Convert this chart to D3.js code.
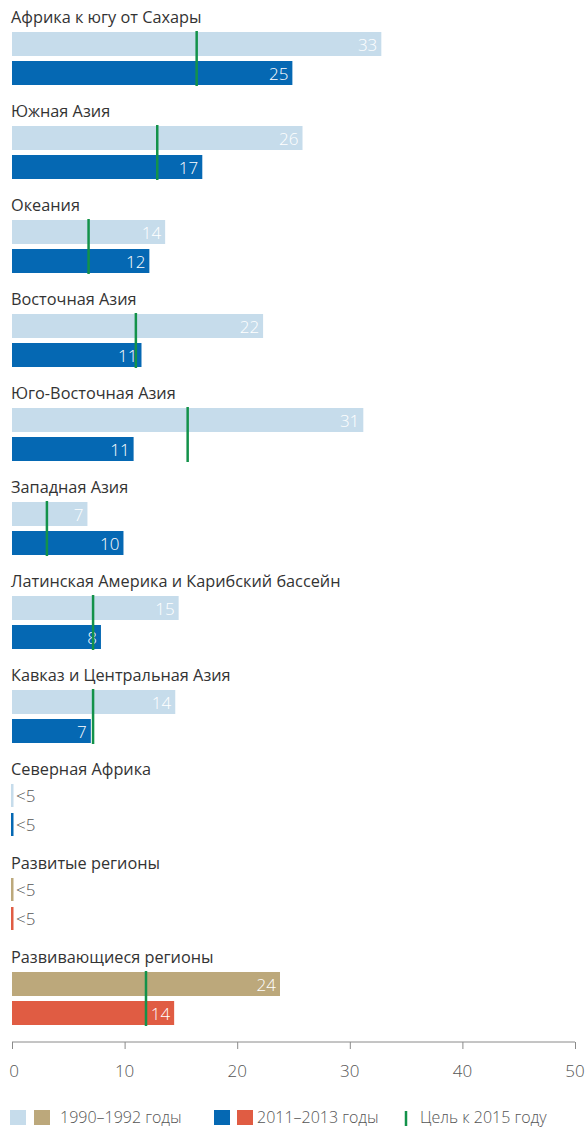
<!DOCTYPE html>
<html>
<head>
<meta charset="utf-8">
<script src="https://cdn.jsdelivr.net/npm/d3@7"></script>
<style>
  body { margin: 0; background: #fff; }
  svg { display: block; font-family: "Open Sans", "Noto Sans", sans-serif; }
</style>
</head>
<body>
<svg id="chart" width="585" height="1128"></svg>
<script>
// Regions, top to bottom
const regions = [
  "Африка к югу от Сахары",
  "Южная Азия",
  "Океания",
  "Восточная Азия",
  "Юго-Восточная Азия",
  "Западная Азия",
  "Латинская Америка и Карибский бассейн",
  "Кавказ и Центральная Азия",
  "Северная Африка",
  "Развитые регионы",
  "Развивающиеся регионы"
];
// null = "<5"
const v1990 = [32.8, 25.8, 13.6, 22.3, 31.2, 6.7, 14.8, 14.5, null, null, 23.8];
const v2011 = [24.9, 16.9, 12.2, 11.5, 10.8, 9.9, 7.9, 7.0, null, null, 14.4];
const labels1990 = ["33", "26", "14", "22", "31", "7", "15", "14", "<5", "<5", "24"];
const labels2011 = ["25", "17", "12", "11", "11", "10", "8", "7", "<5", "<5", "14"];
const target2015 = [16.4, 12.9, 6.8, 11.0, 15.6, 3.1, 7.2, 7.2, null, null, 11.9];
// aggregate groups use tan/red
const aggregate = [false, false, false, false, false, false, false, false, false, true, true];
const xTicks = [0, 10, 20, 30, 40, 50];

const C = {
  light: "#c6dceb", dark: "#0568b3", tan: "#bca87b", red: "#e05c43",
  green: "#13924a", text: "#333", axis: "#8a8a8a"
};

const svg = d3.select("#chart");
const x = d3.scaleLinear().domain([0, 50]).range([12, 575]);
const y = d3.scaleBand().domain(d3.range(regions.length)).range([0, 94 * regions.length]);

const barH = 24;

const g = svg.selectAll("g.region")
  .data(regions)
  .enter()
  .append("g")
  .attr("class", "region")
  .attr("transform", (d, i) => `translate(0,${y(i)})`);

g.append("text")
  .attr("x", 11)
  .attr("y", 23)
  .attr("font-size", 16.3)
  .attr("fill", C.text)
  .text(d => d);

// two bars per region
[[v1990, labels1990, 32, true], [v2011, labels2011, 61, false]].forEach(([vals, labs, top, first]) => {
  g.each(function (d, i) {
    const grp = d3.select(this);
    const color = aggregate[i] ? (first ? C.tan : C.red) : (first ? C.light : C.dark);
    if (vals[i] == null) {
      grp.append("rect")
        .attr("x", x(0) - 1).attr("y", top)
        .attr("width", 2.5).attr("height", barH - 1)
        .attr("fill", color);
      grp.append("text")
        .attr("x", x(0) + 4).attr("y", top + 18)
        .attr("font-size", 17).attr("font-weight", 300)
        .attr("fill", "#555")
        .text(labs[i]);
    } else {
      grp.append("rect")
        .attr("x", x(0)).attr("y", top)
        .attr("width", x(vals[i]) - x(0)).attr("height", barH)
        .attr("fill", color);
      grp.append("text")
        .attr("x", x(vals[i]) - 4).attr("y", top + 18.5)
        .attr("text-anchor", "end")
        .attr("font-size", 17).attr("font-weight", 300)
        .attr("fill", "#fff")
        .text(labs[i]);
    }
  });
});

// target line
g.filter((d, i) => target2015[i] != null)
  .append("line")
  .attr("x1", d => x(target2015[regions.indexOf(d)]))
  .attr("x2", d => x(target2015[regions.indexOf(d)]))
  .attr("y1", 31).attr("y2", 86)
  .attr("stroke", C.green).attr("stroke-width", 2.5);

// Axis: line on top, ticks pointing down
const axisY = 1042;
const ax = svg.append("g")
  .attr("transform", `translate(0,${axisY})`)
  .call(d3.axisBottom(x).tickValues(xTicks).tickSize(7).tickFormat(""));
ax.select(".domain").attr("stroke", C.axis).attr("d", `M${x(0)},0H${x(50)}`);
ax.selectAll(".tick line").attr("stroke", C.axis);

svg.append("g").selectAll("text")
  .data(xTicks)
  .enter()
  .append("text")
  .attr("x", d => x(d) + (d === 0 ? 2 : 0))
  .attr("y", axisY + 35)
  .attr("text-anchor", "middle")
  .attr("font-size", 17).attr("font-weight", 300)
  .attr("fill", "#555")
  .text(d => d);

// Legend
const legY = 1110;
const legend = svg.append("g").attr("font-size", 16).attr("font-weight", 300).attr("fill", "#555");
legend.append("rect").attr("x", 10).attr("y", legY).attr("width", 16).attr("height", 15).attr("fill", C.light);
legend.append("rect").attr("x", 34).attr("y", legY).attr("width", 16).attr("height", 15).attr("fill", C.tan);
legend.append("text").attr("x", 60).attr("y", legY + 13).text("1990–1992 годы");
legend.append("rect").attr("x", 214).attr("y", legY).attr("width", 16).attr("height", 15).attr("fill", C.dark);
legend.append("rect").attr("x", 237).attr("y", legY).attr("width", 16).attr("height", 15).attr("fill", C.red);
legend.append("text").attr("x", 257).attr("y", legY + 13).text("2011–2013 годы");
legend.append("line").attr("x1", 406).attr("x2", 406).attr("y1", legY + 1).attr("y2", legY + 16)
  .attr("stroke", C.green).attr("stroke-width", 2.5);
legend.append("text").attr("x", 420).attr("y", legY + 13).text("Цель к 2015 году");
</script>
</body>
</html>
